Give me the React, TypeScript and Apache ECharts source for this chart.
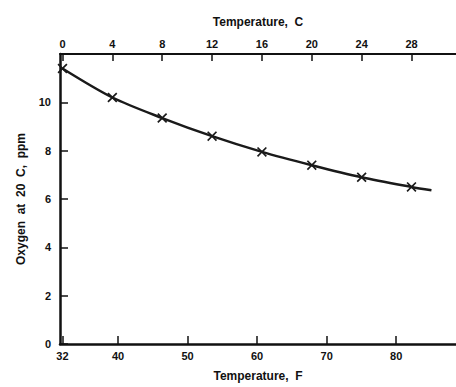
import React, { useEffect, useRef } from "react";
import * as echarts from "echarts";

const tempC = [0, 4, 8, 12, 16, 20, 24, 28];
const oxygenPpm = [11.4, 10.2, 9.35, 8.6, 7.95, 7.4, 6.9, 6.5];
const curveEnd = [29.6, 6.36];
const topTicks = [0, 4, 8, 12, 16, 20, 24, 28];
const bottomTicks = [32, 40, 50, 60, 70, 80];
const yTicks = [0, 2, 4, 6, 8, 10];

const FONT = "Liberation Sans";
const INK = "#111";

export default function App() {
  const ref = useRef<HTMLDivElement>(null);
  useEffect(() => {
    const chart = echarts.init(ref.current!, undefined, { renderer: "svg" });
    const cross =
      "path://M0,1.2 L1.2,0 L5,3.8 L8.8,0 L10,1.2 L6.2,5 L10,8.8 L8.8,10 L5,6.2 L1.2,10 L0,8.8 L3.8,5 Z";
    const lineData: any[] = tempC.map((c, i) => [c, oxygenPpm[i]]);
    lineData.push({ value: curveEnd, symbol: "none" });
    chart.setOption({
      animation: false,
      backgroundColor: "#fff",
      grid: { left: 60, right: 0, top: 54, bottom: 39 },
      xAxis: [
        {
          type: "value",
          position: "bottom",
          min: 31.65,
          max: 88.6,
          name: "Temperature,  F",
          nameLocation: "middle",
          nameGap: 26,
          nameTextStyle: { fontFamily: FONT, fontSize: 12, fontWeight: "bold", color: INK },
          axisLine: { show: true, onZero: false, lineStyle: { color: INK, width: 2.5 } },
          axisTick: { show: true, inside: true, length: 8, customValues: bottomTicks, lineStyle: { color: INK, width: 1.5 } },
          axisLabel: { customValues: bottomTicks, margin: 6, fontFamily: FONT, fontSize: 11, fontWeight: "bold", color: INK },
          splitLine: { show: false },
        },
        {
          type: "value",
          position: "top",
          min: -0.2,
          max: 31.57,
          name: "Temperature,  C",
          nameLocation: "middle",
          nameGap: 26,
          nameTextStyle: { fontFamily: FONT, fontSize: 12, fontWeight: "bold", color: INK },
          axisLine: { show: true, onZero: false, lineStyle: { color: INK, width: 2 } },
          axisTick: { show: true, inside: true, length: 7, customValues: topTicks, lineStyle: { color: INK, width: 1.5 } },
          axisLabel: { customValues: topTicks, margin: 5, fontFamily: FONT, fontSize: 11, fontWeight: "bold", color: INK },
          splitLine: { show: false },
        },
      ],
      yAxis: {
        type: "value",
        min: 0,
        max: 12,
        name: "Oxygen  at  20  C,  ppm",
        nameLocation: "middle",
        nameGap: 33,
        nameTextStyle: { fontFamily: FONT, fontSize: 12, fontWeight: "bold", color: INK },
        axisLine: { show: true, onZero: false, lineStyle: { color: INK, width: 2.5 } },
        axisTick: { show: true, inside: true, length: 8, customValues: yTicks, lineStyle: { color: INK, width: 1.5 } },
        axisLabel: { customValues: yTicks, margin: 9, fontFamily: FONT, fontSize: 11, fontWeight: "bold", color: INK },
        splitLine: { show: false },
      },
      series: [
        {
          type: "line",
          xAxisIndex: 1,
          data: lineData,
          smooth: 0.3,
          symbol: cross,
          symbolSize: 10,
          showSymbol: true,
          lineStyle: { color: "#1a1a1a", width: 2.5 },
          itemStyle: { color: "#1a1a1a" },
        },
      ],
    });
    return () => chart.dispose();
  }, []);
  return <div ref={ref} style={{ width: 456, height: 387, position: "absolute", left: 0, top: 0 }} />;
}
